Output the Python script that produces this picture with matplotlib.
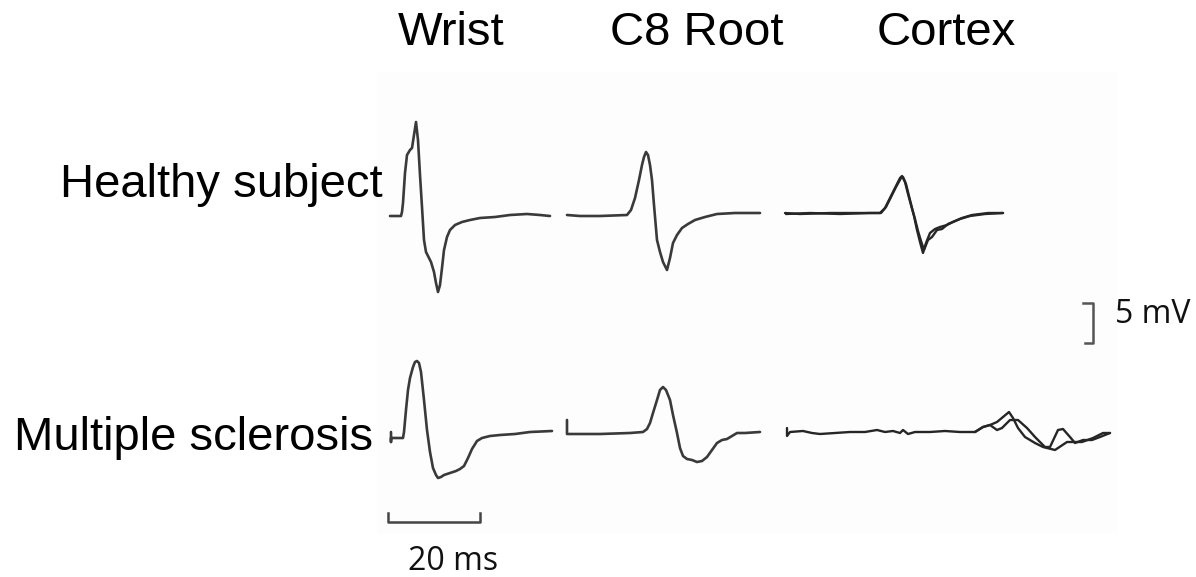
import matplotlib
matplotlib.use("Agg")
import matplotlib.pyplot as plt
from matplotlib.patches import Rectangle

# Заголовки колонок и строк
columns = ["Wrist", "C8 Root", "Cortex"]
rows = ["Healthy subject", "Multiple sclerosis"]
time_label = "20 ms"
volt_label = "5 mV"

# Кривые (координаты, в пикселях)
healthy_wrist_x = [390, 401, 402, 403, 405, 407, 410, 412, 414, 416, 418, 420, 422, 424, 426, 428, 431, 434, 436,
                   438, 440, 442, 444, 447, 450, 455, 462, 470, 480, 495, 510, 527, 540, 550]
healthy_wrist_y = [216, 216, 212, 203, 173, 155, 150, 148, 135, 122, 140, 175, 207, 240, 252, 256, 262, 272, 283,
                   292, 285, 268, 250, 237, 230, 225, 222, 220, 218, 217, 215, 214, 215, 216]

healthy_c8_x = [567, 580, 600, 627, 631, 635, 639, 642, 644, 646, 648, 650, 652, 654, 657, 660, 663, 667, 670, 673,
                677, 682, 688, 695, 705, 717, 735, 760]
healthy_c8_y = [215, 216, 216, 215, 210, 198, 180, 165, 157, 152, 155, 165, 180, 205, 240, 252, 262, 270, 258, 243,
                235, 228, 224, 220, 217, 214, 213, 213]

healthy_cortex_a_x = [785, 800, 830, 860, 880, 885, 890, 895, 900, 902, 905, 908, 911, 914, 917, 920, 923, 926, 930,
                      935, 940, 947, 953, 960, 970, 985, 1003]
healthy_cortex_a_y = [213, 214, 213, 213, 213, 208, 198, 188, 178, 176, 182, 194, 205, 216, 230, 242, 253, 243, 233,
                      229, 227, 225, 222, 219, 216, 214, 213]
healthy_cortex_b_x = [786, 810, 840, 870, 881, 886, 891, 896, 901, 903, 906, 909, 912, 915, 918, 921, 924, 928, 932,
                      937, 942, 948, 955, 962, 972, 988, 1003]
healthy_cortex_b_y = [214, 213, 214, 213, 213, 207, 197, 187, 178, 177, 184, 196, 208, 219, 231, 241, 250, 240, 237,
                      230, 229, 224, 221, 218, 215, 213, 213]

ms_wrist_x = [391, 391, 391, 403, 404, 406, 408, 410, 413, 415, 417, 419, 421, 424, 427, 430, 433, 436, 438, 441,
              444, 450, 456, 460, 464, 468, 472, 477, 482, 490, 500, 515, 530, 552]
ms_wrist_y = [432, 442, 438, 438, 432, 410, 390, 378, 367, 362, 361, 363, 372, 400, 430, 452, 468, 475, 478, 477,
              475, 473, 471, 469, 466, 458, 449, 441, 438, 436, 435, 434, 432, 431]

ms_c8_x = [567, 567, 570, 600, 630, 643, 647, 650, 653, 657, 660, 663, 666, 670, 673, 677, 680, 683, 687, 692, 697,
           702, 707, 712, 717, 722, 727, 732, 737, 745, 760]
ms_c8_y = [420, 434, 434, 434, 433, 432, 429, 423, 413, 400, 390, 387, 390, 400, 415, 433, 448, 456, 459, 460, 462,
           461, 457, 450, 443, 440, 439, 436, 433, 433, 432]

ms_cortex_base_x = [787, 787, 790, 803, 812, 820, 835, 850, 865, 877, 885, 893, 900, 903, 908, 915, 930, 945, 960, 975]
ms_cortex_base_y = [428, 436, 432, 431, 433, 434, 433, 432, 432, 430, 432, 431, 433, 430, 434, 432, 432, 431, 432, 432]
ms_cortex_a_x = [975, 983, 990, 997, 1003, 1009, 1013, 1018, 1025, 1035, 1043, 1055, 1067, 1073, 1082, 1093, 1103, 1110]
ms_cortex_a_y = [432, 427, 425, 422, 417, 412, 418, 428, 437, 443, 447, 450, 442, 442, 442, 438, 433, 433]
ms_cortex_b_x = [975, 983, 990, 997, 1002, 1010, 1018, 1027, 1035, 1045, 1050, 1058, 1063, 1070, 1075, 1083, 1092,
                 1100, 1110]
ms_cortex_b_y = [432, 427, 425, 430, 428, 420, 420, 428, 437, 447, 447, 430, 429, 437, 443, 440, 440, 437, 433]

fig = plt.figure(figsize=(11.96, 5.77), dpi=100)
ax = fig.add_axes([0, 0, 1, 1])
ax.set_xlim(0, 1196)
ax.set_ylim(577, 0)
ax.axis("off")

# Светлый фон скана
ax.add_patch(Rectangle((377, 72), 740, 461, facecolor="#fdfdfd", edgecolor="none", zorder=0))

trace_kw = dict(color="#3a3a3a", lw=1.9, solid_joinstyle="round", solid_capstyle="round")
ax.plot(healthy_wrist_x, healthy_wrist_y, **trace_kw)
ax.plot(healthy_c8_x, healthy_c8_y, **trace_kw)
ax.plot(ms_wrist_x, ms_wrist_y, **trace_kw)
ax.plot(ms_c8_x, ms_c8_y, **trace_kw)

dark_kw = dict(color="#262626", lw=1.7, solid_joinstyle="round", solid_capstyle="round")
ax.plot(healthy_cortex_a_x, healthy_cortex_a_y, **dark_kw)
ax.plot(healthy_cortex_b_x, healthy_cortex_b_y, **dark_kw)
ax.plot(ms_cortex_base_x, ms_cortex_base_y, **dark_kw)
ax.plot(ms_cortex_a_x, ms_cortex_a_y, **dark_kw)
ax.plot(ms_cortex_b_x, ms_cortex_b_y, **dark_kw)

# Масштабные отрезки
ax.plot([388, 388, 480, 480], [513, 522, 522, 513], color="#444444", lw=1.8)
ax.plot([1083, 1093, 1093, 1085], [303, 303, 343, 343], color="#555555", lw=1.8)

# Подписи
title_font = ["Liberation Sans", "DejaVu Sans"]
for name, x in zip(columns, [398, 610, 877]):
    ax.text(x, 45, name, fontsize=34, family=title_font, ha="left", va="baseline")
for name, x, y in zip(rows, [60, 14], [197, 450]):
    ax.text(x, y, name, fontsize=34, family=title_font, ha="left", va="baseline")

scale_font = ["Open Sans", "DejaVu Sans"]
ax.text(408, 570, time_label, fontsize=23, family=scale_font, ha="left", va="baseline", color="#111111")
ax.text(1115, 323, volt_label, fontsize=23, family=scale_font, ha="left", va="baseline", color="#111111")

fig.savefig("out.png", dpi=100)
